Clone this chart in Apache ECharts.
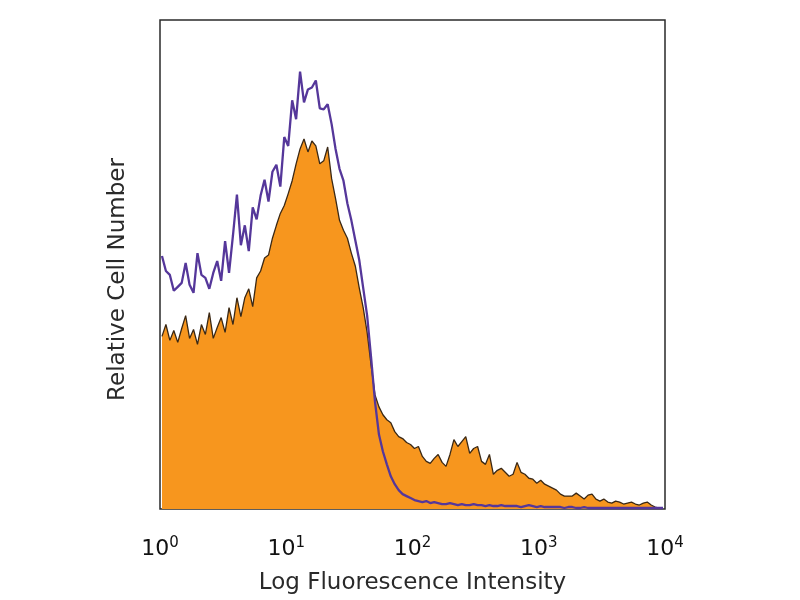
<!DOCTYPE html>
<html>
<head>
<meta charset="utf-8">
<script src="https://cdn.jsdelivr.net/npm/echarts@6/dist/echarts.min.js"></script>
<style>html,body{margin:0;padding:0;background:#fff;}#c{width:800px;height:600px;}</style>
</head>
<body>
<div id="c"></div>
<script>
// Histogram channels: 128 bins over 4 decades (1/32 decade each)
const decadesShown = 4;
const binsPerDecade = 32;
const tickLabels = ['0', '1', '2', '3', '4']; // exponents of 10

// Relative cell number per channel – stained sample (purple outline)
const purpleCounts = [
  255,240,236,220,224,228,248,226,218,258,
  236,233,222,238,250,230,270,238,276,317,
  266,286,260,304,292,316,332,310,340,347,
  325,375,366,412,393,441,410,423,425,432,
  404,403,408,388,363,343,331,308,291,271,
  251,223,195,153,108,75,58,45,33,25,
  19,15,13,11,9,8,7,8,6,7,
  6,5,5,6,5,4,5,4,4,5,
  4,4,3,4,3,3,4,3,3,3,
  3,2,3,4,3,2,3,2,2,2,
  2,2,1,2,2,1,1,2,1,1,
  1,1,1,1,1,1,1,1,1,1,
  1,1,1,1,1,1,1,1
];

// Relative cell number per channel – isotype / control (orange filled)
const orangeCounts = [
  174,186,170,180,168,182,195,172,181,166,
  186,176,198,172,183,193,178,203,186,213,
  194,213,222,204,233,240,253,256,273,286,
  298,306,318,331,348,363,373,360,371,366,
  348,351,365,333,313,291,281,273,258,245,
  223,203,178,145,115,103,95,90,87,78,
  73,71,67,65,61,63,53,48,46,51,
  55,47,43,55,70,63,68,73,56,61,
  63,48,45,55,35,39,41,37,33,35,
  47,37,35,31,30,26,29,25,23,21,
  19,15,13,13,13,16,13,10,14,15,
  10,8,10,7,6,8,7,5,6,7,
  5,4,6,7,4,2,1,1
];

function toPairs(counts) {
  return counts.map((v, i) => [(i + 0.5) / binsPerDecade, v]);
}

const chart = echarts.init(document.getElementById('c'), null, {renderer: 'canvas'});
const fontFam = '"DejaVu Sans", "Open Sans", sans-serif';

chart.setOption({
  animation: false,
  backgroundColor: '#ffffff',
  grid: {
    left: 160, right: 135, top: 20, bottom: 87,
    show: true, borderColor: '#2a2a2a', borderWidth: 1.5, backgroundColor: 'transparent'
  },
  xAxis: {
    type: 'value', min: 0, max: decadesShown, interval: 1,
    axisLine: {show: false}, axisTick: {show: false}, splitLine: {show: false},
    axisLabel: {
      margin: 27,
      formatter: function (v) { return '{b|10}{s|' + tickLabels[Math.round(v)] + '}'; },
      rich: {
        b: {fontSize: 22, color: '#111', fontFamily: fontFam},
        s: {fontSize: 15, color: '#111', fontFamily: fontFam, padding: [0, 0, 11, 0]}
      }
    },
    name: 'Log Fluorescence Intensity', nameLocation: 'middle', nameGap: 63,
    nameTextStyle: {fontSize: 23, color: '#2a2a2a', fontFamily: fontFam}
  },
  yAxis: {
    type: 'value', min: 0, max: 493,
    axisLine: {show: false}, axisTick: {show: false}, splitLine: {show: false},
    axisLabel: {show: false},
    name: 'Relative Cell Number', nameLocation: 'middle', nameGap: 30,
    nameTextStyle: {fontSize: 23, color: '#2a2a2a', fontFamily: fontFam, padding: [0, 30, 0, 0]}
  },
  series: [
    {
      name: 'Control', type: 'line', data: toPairs(orangeCounts),
      symbol: 'none', z: 2,
      lineStyle: {color: '#3a2815', width: 1.3},
      areaStyle: {color: '#F7961E', opacity: 1}
    },
    {
      name: 'Stained', type: 'line', data: toPairs(purpleCounts),
      symbol: 'none', z: 3,
      lineStyle: {color: '#55379a', width: 2.3}
    }
  ]
});
</script>
</body>
</html>
